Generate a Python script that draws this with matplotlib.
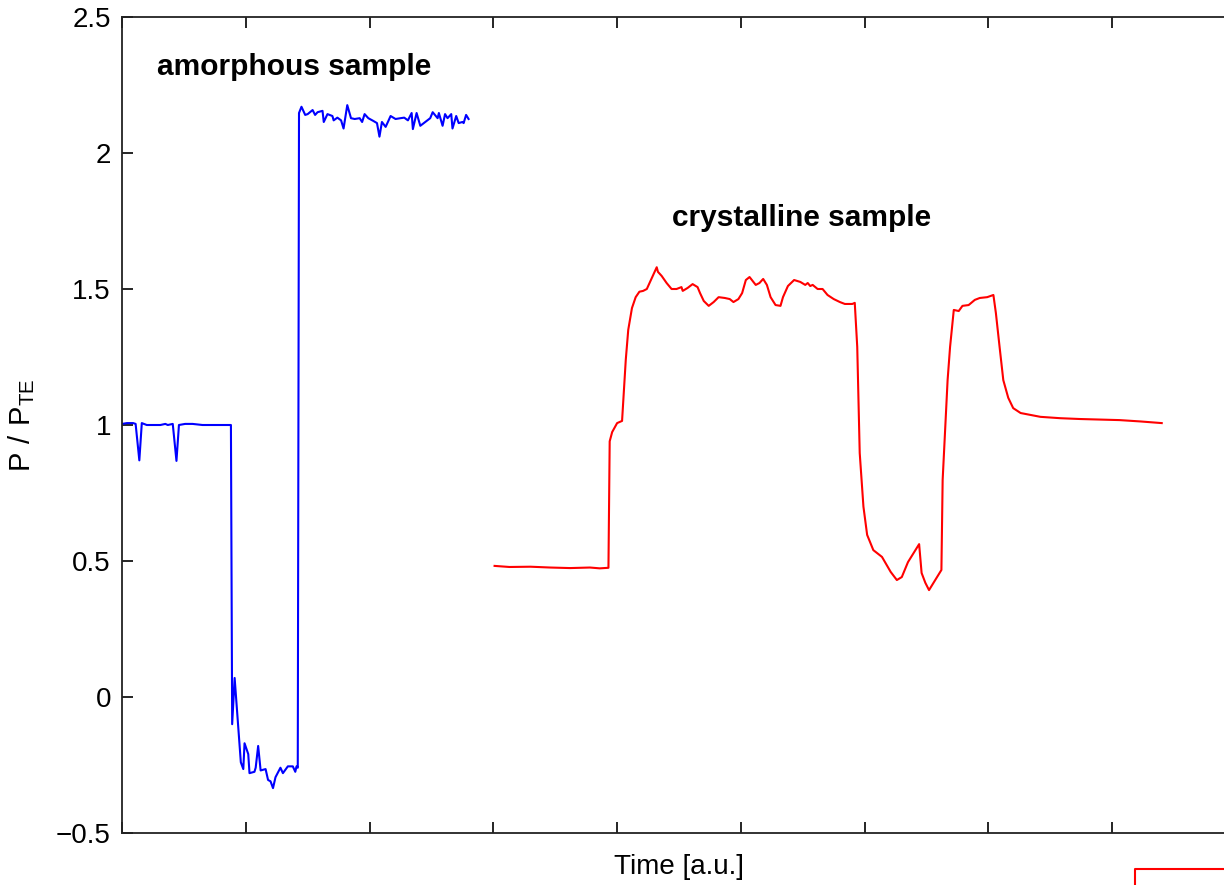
import matplotlib
matplotlib.use("Agg")
import matplotlib.pyplot as plt
from matplotlib.lines import Line2D

plt.rcParams['font.family'] = ['Liberation Sans', 'DejaVu Sans']
plt.rcParams['mathtext.fontset'] = 'custom'
plt.rcParams['mathtext.rm'] = 'Liberation Sans'

# amorphous sample (blue), time in tick units
t_amorph = [0.00, 0.04, 0.09, 0.11, 0.14, 0.16, 0.20, 0.25, 0.31, 0.35, 0.37, 0.41,
            0.44, 0.46, 0.51, 0.57, 0.65, 0.74, 0.82, 0.87, 0.88, 0.89, 0.91, 0.96,
            0.98, 0.99, 1.02, 1.03, 1.07, 1.08, 1.10, 1.12, 1.16, 1.18, 1.20, 1.22,
            1.24, 1.28, 1.30, 1.34, 1.38, 1.40, 1.41, 1.42, 1.43, 1.45, 1.48, 1.50,
            1.54, 1.56, 1.58, 1.62, 1.63, 1.66, 1.70, 1.71, 1.74, 1.77, 1.79, 1.82,
            1.85, 1.88, 1.92, 1.94, 1.96, 1.99, 2.03, 2.06, 2.08, 2.10, 2.13, 2.17,
            2.21, 2.25, 2.28, 2.31, 2.34, 2.35, 2.38, 2.41, 2.45, 2.49, 2.51, 2.55,
            2.56, 2.59, 2.61, 2.63, 2.66, 2.67, 2.70, 2.72, 2.75, 2.76, 2.78, 2.80]
p_amorph = [1.004, 1.007, 1.007, 1.004, 0.87, 1.007, 1.0, 1.0, 1.0, 1.004, 1.0, 1.004,
            0.868, 1.0, 1.004, 1.004, 1.0, 1.0, 1.0, 1.0, 1.0, -0.10, 0.07, -0.24,
            -0.265, -0.17, -0.21, -0.28, -0.275, -0.26, -0.18, -0.27, -0.265, -0.305, -0.31, -0.335,
            -0.295, -0.26, -0.28, -0.255, -0.255, -0.275, -0.255, -0.26, 2.147, 2.17, 2.14, 2.143,
            2.158, 2.14, 2.15, 2.155, 2.114, 2.143, 2.136, 2.12, 2.13, 2.12, 2.09, 2.176,
            2.128, 2.125, 2.128, 2.114, 2.143, 2.128, 2.118, 2.11, 2.06, 2.114, 2.096, 2.136,
            2.125, 2.128, 2.13, 2.12, 2.147, 2.088, 2.147, 2.10, 2.114, 2.128, 2.15, 2.128,
            2.147, 2.10, 2.143, 2.128, 2.143, 2.09, 2.136, 2.11, 2.114, 2.11, 2.14, 2.125]

# crystalline sample (red)
t_cryst = [3.01, 3.13, 3.30, 3.46, 3.62, 3.78, 3.86, 3.93, 3.94, 3.96, 4.00, 4.04,
           4.05, 4.07, 4.09, 4.12, 4.15, 4.18, 4.21, 4.24, 4.28, 4.32, 4.33, 4.36,
           4.40, 4.44, 4.48, 4.52, 4.53, 4.57, 4.61, 4.65, 4.67, 4.70, 4.74, 4.78,
           4.82, 4.87, 4.91, 4.94, 4.98, 5.01, 5.04, 5.07, 5.12, 5.15, 5.18, 5.21,
           5.24, 5.28, 5.32, 5.34, 5.38, 5.43, 5.48, 5.52, 5.54, 5.56, 5.58, 5.62,
           5.66, 5.70, 5.75, 5.80, 5.84, 5.90, 5.92, 5.94, 5.96, 5.99, 6.02, 6.07,
           6.14, 6.21, 6.26, 6.30, 6.35, 6.44, 6.46, 6.49, 6.52, 6.57, 6.62, 6.63,
           6.67, 6.69, 6.72, 6.76, 6.79, 6.84, 6.89, 6.93, 6.99, 7.04, 7.06, 7.09,
           7.12, 7.16, 7.20, 7.26, 7.34, 7.42, 7.58, 7.74, 7.90, 8.06, 8.23, 8.40]
p_cryst = [0.482, 0.478, 0.479, 0.476, 0.474, 0.476, 0.473, 0.475, 0.94, 0.974, 1.007, 1.015,
           1.09, 1.24, 1.35, 1.43, 1.47, 1.49, 1.493, 1.50, 1.54, 1.58, 1.563, 1.548,
           1.522, 1.50, 1.50, 1.507, 1.493, 1.504, 1.518, 1.507, 1.485, 1.456, 1.438, 1.452,
           1.47, 1.467, 1.463, 1.452, 1.463, 1.485, 1.533, 1.544, 1.515, 1.522, 1.537, 1.515,
           1.47, 1.441, 1.438, 1.47, 1.511, 1.533, 1.526, 1.515, 1.522, 1.511, 1.515, 1.50,
           1.50, 1.478, 1.463, 1.452, 1.445, 1.445, 1.449, 1.287, 0.897, 0.70, 0.596, 0.54,
           0.515, 0.46, 0.43, 0.441, 0.496, 0.562, 0.456, 0.42, 0.393, 0.43, 0.467, 0.798,
           1.165, 1.287, 1.423, 1.419, 1.438, 1.441, 1.46, 1.467, 1.47, 1.478, 1.412, 1.287,
           1.165, 1.10, 1.062, 1.044, 1.037, 1.03, 1.025, 1.022, 1.02, 1.018, 1.013, 1.007]

y_ticks = [-0.5, 0, 0.5, 1, 1.5, 2, 2.5]
y_ticklabels = ['\u22120.5', '0', '0.5', '1', '1.5', '2', '2.5']

fig = plt.figure(figsize=(12.24, 8.85), dpi=100)
ax = fig.add_axes([122/1224, 52/885, 1114/1224, 816/885])

ax.plot(t_amorph, p_amorph, color='#0000ff', lw=1.5)
ax.plot(t_cryst, p_cryst, color='#ff0000', lw=1.5)

ax.set_xlim(0, 9)
ax.set_ylim(-0.5, 2.5)
ax.set_xticks(range(0, 10))
ax.set_xticklabels([])
ax.set_yticks(y_ticks)
ax.set_yticklabels(y_ticklabels)
ax.tick_params(direction='in', length=8, width=1.2, top=True, right=True,
               labelsize=20, pad=8, colors='black')
for s in ax.spines.values():
    s.set_linewidth(1.3)
    s.set_color('#222222')

ax.set_xlabel('Time [a.u.]', fontsize=20, labelpad=7)
ax.set_ylabel(r'$\mathrm{P\ /\ P_{TE}}$', fontsize=21, labelpad=14)

ax.text(0.28, 2.316, 'amorphous sample', fontsize=21.5, fontweight='bold', va='center')
ax.text(4.44, 1.76, 'crystalline sample', fontsize=21.5, fontweight='bold', va='center')

# edge of the next panel peeking in at the bottom right
fig.add_artist(Line2D([1135/1224, 1135/1224, 1.0], [0.0, 16/885, 16/885],
                      transform=fig.transFigure, color='#ff0000', lw=1.5))

fig.savefig('out.png', dpi=100)
